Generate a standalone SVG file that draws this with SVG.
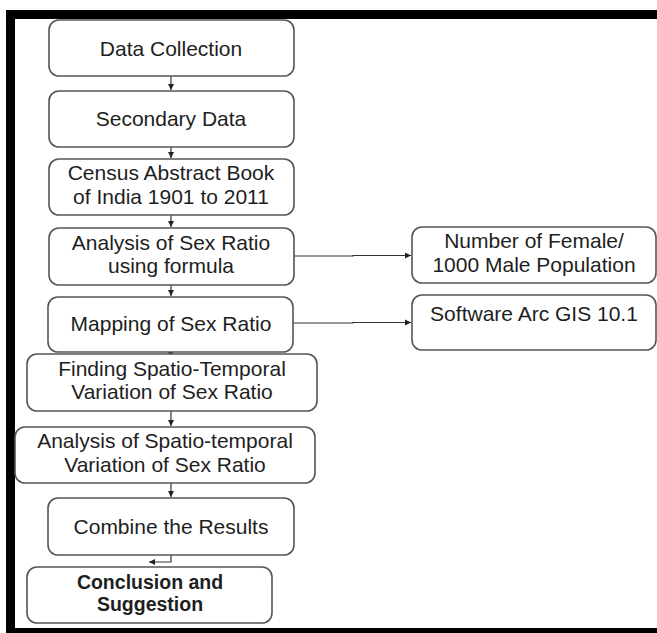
<svg xmlns="http://www.w3.org/2000/svg" width="657" height="633" viewBox="0 0 657 633">
<defs>
<style>
.box{fill:#ffffff;stroke:#555555;stroke-width:1.6}
.t{font-family:"Liberation Sans","Open Sans",sans-serif;font-size:21px;fill:#1e1e1e;text-anchor:middle}
.b{font-weight:bold;font-size:19.5px}
.c{fill:none;stroke:#333333;stroke-width:1.2}
.frame{fill:#000000}
</style>
<marker id="ah" markerUnits="userSpaceOnUse" markerWidth="8" markerHeight="8" refX="6" refY="4" orient="auto">
<path d="M0,1 L6,4 L0,7 Z" fill="#222222"/>
</marker>
</defs>
<rect x="0" y="0" width="657" height="633" fill="#ffffff"/>
<g id="frame">
<rect class="frame" x="7" y="10" width="650" height="9"/>
<rect class="frame" x="6" y="10" width="9" height="622"/>
<rect class="frame" x="6" y="628" width="651" height="5"/>
</g>
<g id="connectors">
<path class="c" d="M171,76 V90" marker-end="url(#ah)"/>
<path class="c" d="M171,147 V158" marker-end="url(#ah)"/>
<path class="c" d="M171,215 V227" marker-end="url(#ah)"/>
<path class="c" d="M171,285 V296" marker-end="url(#ah)"/>
<path d="M167,353 L173,350.5 L173,355.5 Z" fill="#222222"/>
<path class="c" d="M171,411 V426" marker-end="url(#ah)"/>
<path class="c" d="M171,483 V497" marker-end="url(#ah)"/>
<path class="c" d="M171,555 V562 H149" marker-end="url(#ah)"/>
<path class="c" d="M294,256 H353 V255.5 H411" marker-end="url(#ah)"/>
<path class="c" d="M293,323 H353 V322.5 H411" marker-end="url(#ah)"/>
</g>
<g id="n1"><rect class="box" x="49" y="20" width="245" height="56" rx="10"/><text class="t" x="171" y="55.5">Data Collection</text></g>
<g id="n2"><rect class="box" x="49" y="91" width="245" height="56" rx="10"/><text class="t" x="171" y="126">Secondary Data</text></g>
<g id="n3"><rect class="box" x="49" y="159" width="245" height="56" rx="10"/><text class="t" x="171" y="180"><tspan x="171">Census Abstract Book</tspan><tspan x="171" dy="23.5">of India 1901 to 2011</tspan></text></g>
<g id="n4"><rect class="box" x="49" y="228" width="245" height="57" rx="10"/><text class="t" x="171" y="249.5"><tspan x="171">Analysis of Sex Ratio</tspan><tspan x="171" dy="23.5">using formula</tspan></text></g>
<g id="n5"><rect class="box" x="48" y="297" width="245" height="55" rx="10"/><text class="t" x="171" y="331">Mapping of Sex Ratio</text></g>
<g id="n6"><rect class="box" x="27" y="354" width="290" height="57" rx="10"/><text class="t" x="172" y="375.5"><tspan x="172">Finding Spatio-Temporal</tspan><tspan x="172" dy="23.5">Variation of Sex Ratio</tspan></text></g>
<g id="n7"><rect class="box" x="15" y="427" width="300" height="56" rx="10"/><text class="t" x="165" y="448"><tspan x="165">Analysis of Spatio-temporal</tspan><tspan x="165" dy="23.5">Variation of Sex Ratio</tspan></text></g>
<g id="n8"><rect class="box" x="48" y="498" width="246" height="57" rx="10"/><text class="t" x="171" y="533.5">Combine the  Results</text></g>
<g id="n9"><rect class="box" x="27" y="567" width="245" height="56" rx="10"/><text class="t b" x="150" y="589"><tspan x="150">Conclusion and</tspan><tspan x="150" dy="22">Suggestion</tspan></text></g>
<g id="n10"><rect class="box" x="412" y="227" width="244" height="56" rx="10"/><text class="t" x="534" y="248"><tspan x="534">Number of Female/</tspan><tspan x="534" dy="23.5">1000 Male Population</tspan></text></g>
<g id="n11"><rect class="box" x="412" y="295" width="244" height="55" rx="10"/><text class="t" x="534" y="321">Software Arc GIS 10.1</text></g>
</svg>
